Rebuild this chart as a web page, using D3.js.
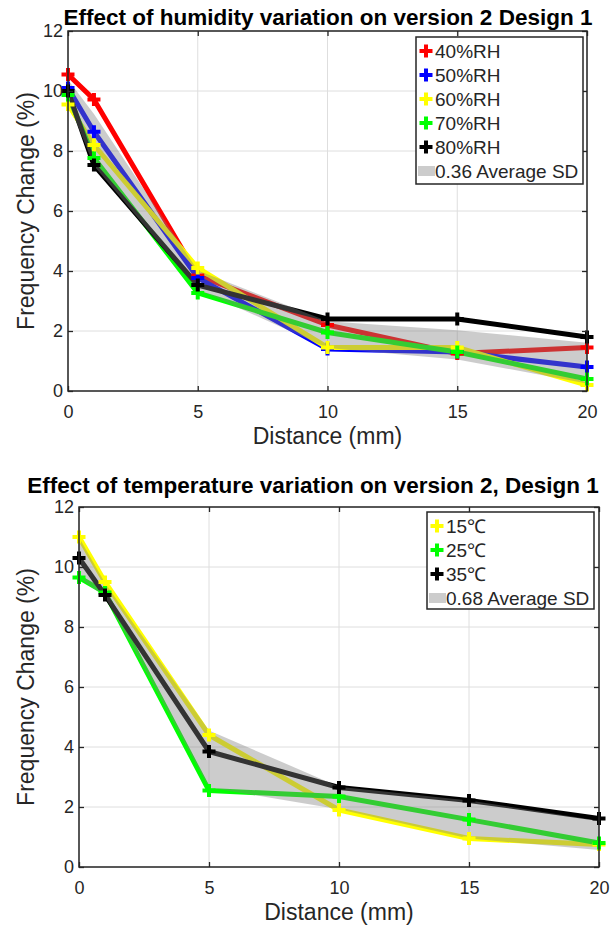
<!DOCTYPE html>
<html><head><meta charset="utf-8">
<script src="https://cdn.jsdelivr.net/npm/d3@7"></script>
<style>
html,body{margin:0;padding:0;background:#fff;}
svg{display:block;font-family:"Liberation Sans",Arial,sans-serif;}
</style></head>
<body>
<svg id="chart" width="612" height="927"></svg>
<script>
// ---------- data ----------
const distances = [0, 1, 5, 10, 15, 20];
const xTicks = [0, 5, 10, 15, 20];
const yTicks = [0, 2, 4, 6, 8, 10, 12];

const humidityLabels = ["40%RH", "50%RH", "60%RH", "70%RH", "80%RH"];
const humidityColors = ["#ff0000", "#0000ff", "#ffff00", "#00ff00", "#000000"];
const rh40 = [10.55, 9.72, 3.85, 2.2, 1.25, 1.45];
const rh50 = [10.1, 8.64, 3.77, 1.4, 1.3, 0.8];
const rh60 = [9.55, 8.2, 4.1, 1.45, 1.45, 0.2];
const rh70 = [9.87, 7.77, 3.27, 1.95, 1.3, 0.4];
const rh80 = [10.0, 7.53, 3.53, 2.4, 2.4, 1.8];
const humiditySD = "0.36 Average SD";

const tempLabels = ["15\u2103", "25\u2103", "35\u2103"];
const tempColors = ["#ffff00", "#00ff00", "#000000"];
const t15 = [11.0, 9.5, 4.4, 1.9, 0.95, 0.75];
const t25 = [9.65, 9.15, 2.55, 2.35, 1.58, 0.8];
const t35 = [10.3, 9.07, 3.85, 2.65, 2.22, 1.62];
const tempSD = "0.68 Average SD";

const titles = ["Effect of humidity variation on version 2 Design 1",
                "Effect of temperature variation on version 2, Design 1"];
const xLabel = "Distance (mm)";
const yLabel = "Frequency Change (%)";

// ---------- drawing ----------
const svg = d3.select("#chart");
const AX = "#262626";
const FONT = '"Liberation Sans",Arial,sans-serif';

function plus(g, cx, cy, color, r, w) {
  g.append("path")
    .attr("d", `M${cx - r},${cy}H${cx + r}M${cx},${cy - r}V${cy + r}`)
    .attr("stroke", color).attr("stroke-width", w).attr("fill", "none");
}

function drawChart(o) {
  const g = svg.append("g");
  const x = d3.scaleLinear().domain([0, 20]).range([o.left, o.right]);
  const y = d3.scaleLinear().domain([0, 12]).range([o.bottom, o.top]);

  // grid
  g.append("g").selectAll("line").data(xTicks).join("line")
    .attr("x1", d => x(d)).attr("x2", d => x(d))
    .attr("y1", o.top).attr("y2", o.bottom)
    .attr("stroke", "#dedede").attr("stroke-width", 1);
  g.append("g").selectAll("line").data(yTicks).join("line")
    .attr("y1", d => y(d)).attr("y2", d => y(d))
    .attr("x1", o.left).attr("x2", o.right)
    .attr("stroke", "#dedede").attr("stroke-width", 1);

  const line = d3.line().x((d, i) => x(distances[i])).y(d => y(d));

  // lines
  o.series.forEach((s, k) => {
    g.append("path").datum(s).attr("d", line)
      .attr("fill", "none").attr("stroke", o.colors[k])
      .attr("stroke-width", 5).attr("stroke-linejoin", "round");
  });

  // band mean ± SD
  const stats = distances.map((dd, i) => {
    const vals = o.series.map(s => s[i]);
    const m = d3.mean(vals), sd = d3.deviation(vals);
    return { d: dd, lo: m - sd, hi: m + sd };
  });
  const area = d3.area().x(d => x(d.d)).y0(d => y(d.lo)).y1(d => y(d.hi));
  g.append("path").datum(stats).attr("d", area)
    .attr("fill", "rgb(128,128,128)").attr("fill-opacity", 0.4);

  // markers
  o.series.forEach((s, k) => {
    s.forEach((v, i) => plus(g, x(distances[i]), y(v), o.colors[k], 6.5, 4));
  });

  // axes box
  g.append("rect").attr("x", o.left).attr("y", o.top)
    .attr("width", o.right - o.left).attr("height", o.bottom - o.top)
    .attr("fill", "none").attr("stroke", AX).attr("stroke-width", 1.5);

  const xAxisB = d3.axisBottom(x).tickValues(xTicks).tickSizeInner(-5).tickSizeOuter(0).tickPadding(14);
  const xAxisT = d3.axisTop(x).tickValues(xTicks).tickSizeInner(-5).tickSizeOuter(0).tickFormat("");
  const yAxisL = d3.axisLeft(y).tickValues(yTicks).tickSizeInner(-5).tickSizeOuter(0).tickPadding(5);
  const yAxisR = d3.axisRight(y).tickValues(yTicks).tickSizeInner(-5).tickSizeOuter(0).tickFormat("");

  function style(sel) {
    sel.select(".domain").remove();
    sel.selectAll(".tick line").attr("stroke", AX).attr("stroke-width", 1.3);
    sel.selectAll(".tick text").attr("fill", AX).style("font-size", "18px")
      .style("font-family", FONT);
  }
  g.append("g").attr("transform", `translate(0,${o.bottom})`).call(xAxisB).call(style);
  g.append("g").attr("transform", `translate(0,${o.top})`).call(xAxisT).call(style);
  g.append("g").attr("transform", `translate(${o.left},0)`).call(yAxisL).call(style);
  g.append("g").attr("transform", `translate(${o.right},0)`).call(yAxisR).call(style);

  // title
  g.append("text").attr("x", o.titleX).attr("y", o.titleY)
    .attr("text-anchor", "middle").attr("font-weight", "bold")
    .attr("font-size", 22.5).attr("fill", "#000").text(o.title);

  // axis labels
  g.append("text").attr("x", (o.left + o.right) / 2).attr("y", o.bottom + 53)
    .attr("text-anchor", "middle").attr("font-size", 23).attr("fill", AX).text(xLabel);
  g.append("text")
    .attr("transform", `translate(${o.yLabelX},${(o.top + o.bottom) / 2}) rotate(-90)`)
    .attr("text-anchor", "middle").attr("font-size", 23).attr("fill", AX).text(yLabel);

  // legend
  const L = o.legend;
  const lg = g.append("g");
  lg.append("rect").attr("x", L.x).attr("y", L.y).attr("width", L.w).attr("height", L.h)
    .attr("fill", "#fff").attr("stroke", AX).attr("stroke-width", 1.5);
  o.labels.forEach((lab, k) => {
    const cy = L.y + 14 + k * 24;
    plus(lg, L.x + 10, cy, o.colors[k], 6.5, 4);
    lg.append("text").attr("x", L.x + 19).attr("y", cy + 7)
      .attr("font-size", 19).attr("fill", AX).text(lab);
  });
  const cy = L.y + 14 + o.labels.length * 24;
  lg.append("rect").attr("x", L.x + 2).attr("y", cy - 5).attr("width", 17).attr("height", 10)
    .attr("fill", "rgb(128,128,128)").attr("fill-opacity", 0.4);
  lg.append("text").attr("x", L.x + 19).attr("y", cy + 7)
    .attr("font-size", 19).attr("fill", AX).text(o.sdText);
}

drawChart({
  left: 68, right: 587, top: 31, bottom: 391,
  series: [rh40, rh50, rh60, rh70, rh80], colors: humidityColors, labels: humidityLabels,
  sdText: humiditySD, title: titles[0], titleX: 328, titleY: 25, yLabelX: 34,
  legend: { x: 416, y: 37, w: 167, h: 147 }
});
drawChart({
  left: 79, right: 599, top: 507, bottom: 867,
  series: [t15, t25, t35], colors: tempColors, labels: tempLabels,
  sdText: tempSD, title: titles[1], titleX: 313, titleY: 493, yLabelX: 34,
  legend: { x: 427, y: 512, w: 167, h: 97 }
});
</script>
</body></html>
